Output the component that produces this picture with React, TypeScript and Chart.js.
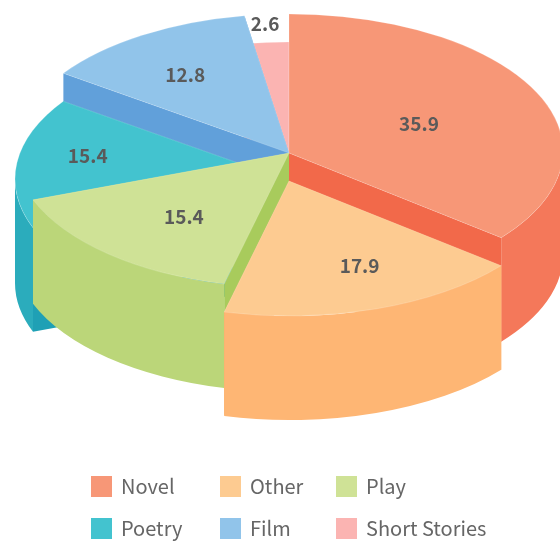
import React, { useEffect, useRef } from "react";
import { Chart, registerables } from "chart.js";

Chart.register(...registerables);

const categories = ["Novel", "Other", "Play", "Poetry", "Film", "Short Stories"];
const shares = [35.9, 17.9, 15.4, 15.4, 12.8, 2.6];

const topColors = ["#F79777", "#FDCB91", "#CFE296", "#43C3CF", "#91C4EA", "#FBB4B2"];
const outerWallColors = ["#F4785A", "#FEB674", "#BBD679", "#2BACBC", "#61A0DA", "#F79A98"];
const sideWallColors = ["#F2694A", "#FBA860", "#A8CB5C", "#1FA0B5", "#61A0DA", "#F0908E"];
const sunken = [false, true, false, true, false, true];

const labelSpreadX = [0.525, 0.81, 0.58, 0.74, 0.707, 1.07];
const labelSpreadY = [0.49, 0.655, 0.62, 1.57, 0.678, 1.15];

const CX = 289;
const APEX_Y = 153;
const CY = 151;
const RX = 274;
const RY = 137;
const DEPTH = 104;
const STEP = 28;
const FONT = '"Noto Sans CJK SC", "Noto Sans", sans-serif';

const legendColumns = [91, 220, 336];
const legendRows = [476, 518];

const prismPlugin = {
  id: "prism",
  beforeDatasetDraw(chart: any) {
    const ctx = chart.ctx;
    const arcs = chart.getDatasetMeta(0).data;
    const order = arcs
      .map((_: any, i: number) => i)
      .sort((a: number, b: number) => {
        const m = (el: any) => Math.sin((el.startAngle + el.endAngle) / 2);
        return m(arcs[a]) - m(arcs[b]);
      });
    const px = (a: number) => CX + RX * Math.cos(a);
    const py = (a: number, y: number) => y + RY * Math.sin(a);
    ctx.save();
    order.forEach((i: number) => {
      const { startAngle: a0, endAngle: a1 } = arcs[i];
      const lift = sunken[i] ? STEP : 0;
      const e0 = CY + lift;
      const e1 = e0 + DEPTH;
      const ap0 = APEX_Y + lift;
      const ap1 = ap0 + DEPTH;
      // radial faces
      [a0, a1].forEach((a: number) => {
        ctx.beginPath();
        ctx.moveTo(CX, ap0);
        ctx.lineTo(px(a), py(a, e0));
        ctx.lineTo(px(a), py(a, e1));
        ctx.lineTo(CX, ap1);
        ctx.closePath();
        ctx.fillStyle = sideWallColors[i];
        ctx.fill();
      });
      // outer wall, front half only
      const f0 = Math.max(a0, 0);
      const f1 = Math.min(a1, Math.PI);
      if (f1 > f0) {
        ctx.beginPath();
        ctx.ellipse(CX, e0, RX, RY, 0, f0, f1);
        ctx.ellipse(CX, e1, RX, RY, 0, f1, f0, true);
        ctx.closePath();
        ctx.fillStyle = outerWallColors[i];
        ctx.fill();
      }
      // top
      ctx.beginPath();
      ctx.moveTo(CX, ap0);
      ctx.ellipse(CX, e0, RX, RY, 0, a0, a1);
      ctx.closePath();
      ctx.fillStyle = topColors[i];
      ctx.fill();
      ctx.strokeStyle = "rgba(255,255,255,0.18)";
      ctx.lineWidth = 1;
      ctx.stroke();
    });
    ctx.restore();
    return false;
  },
  afterDatasetsDraw(chart: any) {
    const ctx = chart.ctx;
    const arcs = chart.getDatasetMeta(0).data;
    ctx.save();
    ctx.textAlign = "center";
    ctx.textBaseline = "middle";
    ctx.font = `bold 19px ${FONT}`;
    ctx.fillStyle = "#5A5A5A";
    arcs.forEach((el: any, i: number) => {
      const mid = (el.startAngle + el.endAngle) / 2;
      const y0 = APEX_Y + (sunken[i] ? STEP : 0);
      ctx.fillText(
        String(chart.data.datasets[0].data[i]),
        CX + labelSpreadX[i] * RX * Math.cos(mid),
        y0 + labelSpreadY[i] * RY * Math.sin(mid)
      );
    });
    ctx.font = `20px ${FONT}`;
    ctx.textAlign = "left";
    chart.data.labels.forEach((label: string, i: number) => {
      const x = legendColumns[i % 3];
      const y = legendRows[Math.floor(i / 3)];
      ctx.fillStyle = topColors[i];
      ctx.fillRect(x, y, 21, 21);
      ctx.fillStyle = "#666666";
      ctx.fillText(label, x + 30, y + 10);
    });
    ctx.restore();
  },
};

export default function App() {
  const ref = useRef<HTMLCanvasElement>(null);
  useEffect(() => {
    const chart = new Chart(ref.current as HTMLCanvasElement, {
      type: "pie",
      data: {
        labels: categories,
        datasets: [{ data: shares, backgroundColor: topColors, borderWidth: 0 }],
      },
      options: {
        responsive: false,
        animation: false,
        plugins: { legend: { display: false }, tooltip: { enabled: false } },
      },
      plugins: [prismPlugin],
    } as any);
    return () => chart.destroy();
  }, []);
  return (
    <canvas
      ref={ref}
      width={560}
      height={541}
      style={{ position: "absolute", left: 0, top: 0, display: "block" }}
    />
  );
}
